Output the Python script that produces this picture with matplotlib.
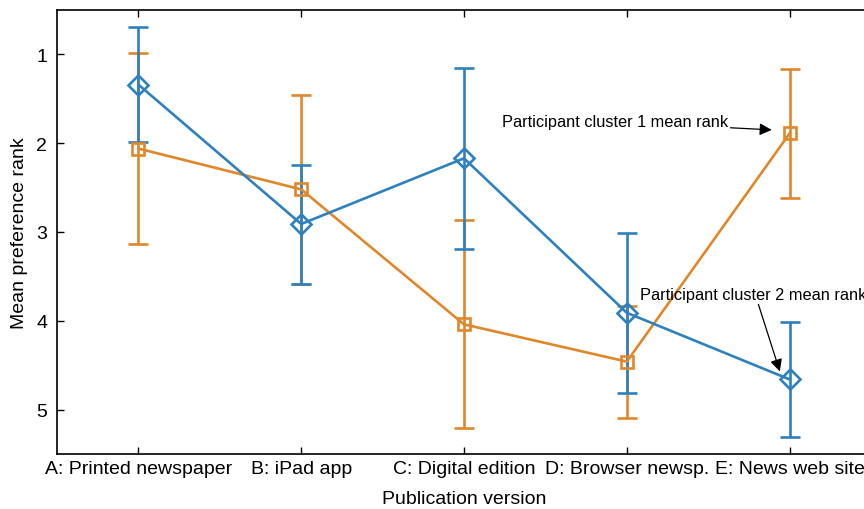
import matplotlib
matplotlib.use('Agg')
from matplotlib import pyplot as plt

plt.rcParams['font.family'] = ['Liberation Sans', 'DejaVu Sans']

versions = ['A: Printed newspaper', 'B: iPad app', 'C: Digital edition',
            'D: Browser newsp.', 'E: News web site']
positions = [1, 2, 3, 4, 5]

# cluster 1 (orange squares)
c1_mean = [2.06, 2.52, 4.04, 4.46, 1.89]
c1_err = [1.08, 1.06, 1.17, 0.63, 0.73]

# cluster 2 (blue diamonds)
c2_mean = [1.34, 2.91, 2.17, 3.91, 4.66]
c2_err = [0.65, 0.67, 1.02, 0.90, 0.65]

blue = '#2e80bf'
orange = '#e0872b'

fig = plt.figure(figsize=(8.64, 5.10), dpi=100)
ax = fig.add_axes([57 / 864, 55 / 510, 814 / 864, 444 / 510])

ax.errorbar(positions, c1_mean, yerr=c1_err, color=orange, lw=1.9, marker='s',
            ms=9, mfc='none', mew=1.9, capsize=7, capthick=1.9)
ax.errorbar(positions, c2_mean, yerr=c2_err, color=blue, lw=1.9, marker='D',
            ms=10, mfc='none', mew=1.9, capsize=7, capthick=1.9)

ax.set_xlim(0.5, 5.5)
ax.set_ylim(5.5, 0.5)
ax.set_xticks(positions)
ax.set_xticklabels(versions)
ax.set_yticks([1, 2, 3, 4, 5])
ax.tick_params(direction='in', top=True, right=True, length=5, width=1,
               labelsize=14, pad=4)
ax.tick_params(axis='y', pad=7)
for s in ax.spines.values():
    s.set_linewidth(1.2)

ax.set_xlabel('Publication version', fontsize=14, labelpad=10)
ax.set_ylabel('Mean preference rank', fontsize=14, labelpad=6)

ax.annotate('Participant cluster 1 mean rank', xy=(4.89, 1.85),
            xytext=(4.62, 1.76), fontsize=11.8, ha='right', va='center',
            arrowprops=dict(arrowstyle='-|>', color='k', lw=0.9,
                            mutation_scale=18, shrinkA=0, shrinkB=0))
ax.annotate('Participant cluster 2 mean rank', xy=(4.94, 4.57),
            xytext=(4.08, 3.7), fontsize=11.8, ha='left', va='center',
            arrowprops=dict(arrowstyle='-|>', color='k', lw=0.9,
                            mutation_scale=18, shrinkA=0, shrinkB=0,
                            relpos=(0.52, 0.0)))

fig.savefig('out.png', dpi=100)
